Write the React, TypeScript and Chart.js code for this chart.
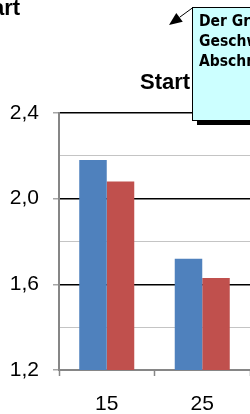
import React, { useEffect, useRef } from 'react';
import { Chart, registerables } from 'chart.js';
Chart.register(...registerables);

const categories = ['15', '25'];
const series1 = [2.18, 1.72];
const series2 = [2.08, 1.63];
const seriesNames = ['Reihe 1', 'Reihe 2'];
const yMin = 1.2;
const yMax = 2.4;
const yStep = 0.2;
const titleText = 'Start';
const topTitleFragment = 'art';
const calloutLines = ['Der Gr', 'Geschw', 'Abschn'];

export default function App() {
  const ref = useRef<HTMLCanvasElement>(null);
  useEffect(() => {
    const isMajor = (v: number) => Math.round(v * 10) % 4 === 0;
    const chart = new Chart(ref.current!, {
      type: 'bar',
      data: {
        labels: categories,
        datasets: [
          { label: seriesNames[0], data: series1, backgroundColor: '#4F81BD', borderWidth: 0 },
          { label: seriesNames[1], data: series2, backgroundColor: '#C0504D', borderWidth: 0 },
        ],
      },
      options: {
        responsive: false,
        animation: false,
        devicePixelRatio: 1,
        layout: { padding: { top: 113, left: 0, right: 0, bottom: 0 } },
        plugins: { legend: { display: false }, title: { display: false }, tooltip: { enabled: false } },
        datasets: { bar: { categoryPercentage: 0.576, barPercentage: 1 } },
        scales: {
          x: {
            grid: { drawOnChartArea: false, drawTicks: true, tickLength: 6, tickColor: '#868686', tickWidth: 1.5, offset: true },
            border: { color: '#868686', width: 2 },
            ticks: { color: '#000', font: { size: 21, family: 'Liberation Sans' }, padding: 16 },
            afterFit: (s: any) => { s.height = 44; },
          },
          y: {
            min: yMin,
            max: yMax,
            ticks: {
              stepSize: yStep,
              autoSkip: false,
              callback: (v: any) => (isMajor(Number(v)) ? Number(v).toFixed(1).replace('.', ',') : ''),
              color: '#000',
              font: { size: 21, family: 'Liberation Sans' },
              padding: 14,
            },
            grid: {
              color: (ctx: any) => {
                const v = ctx.tick ? ctx.tick.value : 0;
                if (Math.abs(v - yMin) < 1e-6) return '#868686';
                return isMajor(v) ? '#000' : '#C4C4C4';
              },
              lineWidth: (ctx: any) => {
                const v = ctx.tick ? ctx.tick.value : 0;
                return isMajor(v) ? 1.5 : 1;
              },
              tickColor: (ctx: any) => {
                const v = ctx.tick ? ctx.tick.value : 0;
                return isMajor(v) ? '#A6A6A6' : 'rgba(0,0,0,0)';
              },
              tickLength: 6,
            },
            border: { color: '#868686', width: 2 },
            afterFit: (s: any) => { s.width = 59; },
          },
        },
      },
    } as any);
    return () => chart.destroy();
  }, []);

  const tipX = 169, tipY = 25, startX = 193, startY = 7.5;
  const dx = startX - tipX, dy = startY - tipY;
  const len = Math.hypot(dx, dy);
  const ux = dx / len, uy = dy / len;
  const bx = tipX + ux * 13, by = tipY + uy * 13;
  const px = -uy, py = ux;
  const head = `${tipX},${tipY} ${bx + px * 5.5},${by + py * 5.5} ${bx - px * 5.5},${by - py * 5.5}`;

  return (
    <div style={{ position: 'absolute', left: 0, top: 0, width: 250, height: 414, overflow: 'hidden', background: '#fff' }}>
      <canvas ref={ref} width={250} height={414} style={{ position: 'absolute', left: 0, top: 0, width: 250, height: 414 }} />
      <div style={{ position: 'absolute', left: -8, top: -3.5, font: 'bold 22px/22px "Liberation Sans"', color: '#000', whiteSpace: 'nowrap' }}>{topTitleFragment}</div>
      <div style={{ position: 'absolute', left: 140, top: 70.5, font: 'bold 22px/22px "Liberation Sans"', color: '#000', whiteSpace: 'nowrap' }}>{titleText}</div>
      <svg width={250} height={414} style={{ position: 'absolute', left: 0, top: 0, pointerEvents: 'none' }}>
        <line x1={startX} y1={startY} x2={bx} y2={by} stroke="#000" strokeWidth={1} />
        <polygon points={head} fill="#000" />
      </svg>
      <div style={{ position: 'absolute', left: 192, top: 7, width: 120, height: 114, background: '#CCFFFF', border: '1px solid #000', boxShadow: '5px 4px 0 #000', padding: '2.5px 0 0 6px', boxSizing: 'border-box' }}>
        {calloutLines.map((l, i) => (
          <div key={i} style={{ font: 'bold 15.5px/20px "DejaVu Sans Condensed", "Open Sans"', fontStretch: 'condensed', color: '#000', whiteSpace: 'nowrap' }}>{l}</div>
        ))}
      </div>
    </div>
  );
}
